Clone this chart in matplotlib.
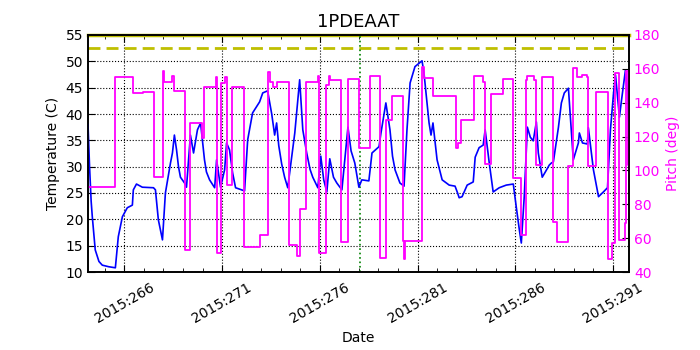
import matplotlib
matplotlib.use("Agg")
import matplotlib.pyplot as plt
from matplotlib.ticker import FixedLocator, MultipleLocator, FuncFormatter

title = "1PDEAAT"
xlabel = "Date"
ylabel_left = "Temperature (C)"
ylabel_right = "Pitch (deg)"
year = 2015
limit_temp = 52.5
top_line = 55.0
event_day = 278.05
major_days = [266, 271, 276, 281, 286, 291]

temp_day = [264.14, 264.22, 264.30, 264.36, 264.51, 264.70, 264.87, 265.20, 265.54, 265.69,
            265.90, 266.15, 266.41, 266.46, 266.62, 266.92, 267.49, 267.59, 267.74, 267.95,
            268.10, 268.36, 268.46, 268.56, 268.67, 268.77, 268.87, 269.08, 269.18, 269.38,
            269.54, 269.74, 269.90, 270.10, 270.20, 270.36, 270.62, 270.72, 270.92, 271.13,
            271.23, 271.38, 271.54, 271.69, 272.15, 272.31, 272.56, 272.92, 273.08, 273.33,
            273.54, 273.69, 273.79, 273.90, 274.05, 274.20, 274.36, 274.72, 274.97, 275.13,
            275.33, 275.50, 275.64, 275.90, 276.05, 276.20, 276.36, 276.51, 276.70, 276.87,
            277.13, 277.44, 277.60, 277.79, 278.00, 278.15, 278.51, 278.67, 279.03, 279.13,
            279.38, 279.59, 279.72, 279.85, 280.10, 280.31, 280.46, 280.62, 280.87, 281.23,
            281.33, 281.59, 281.69, 281.79, 282.00, 282.26, 282.62, 282.92, 283.05, 283.13,
            283.28, 283.54, 283.85, 283.95, 284.15, 284.36, 284.46, 284.67, 284.87, 285.18,
            285.54, 285.90, 286.05, 286.21, 286.31, 286.46, 286.62, 286.77, 286.92, 287.08,
            287.18, 287.38, 287.54, 287.74, 287.85, 287.95, 288.21, 288.36, 288.51, 288.72,
            288.97, 289.23, 289.28, 289.44, 289.69, 289.74, 290.00, 290.26, 290.51, 290.72,
            290.87, 291.03, 291.13, 291.33, 291.44, 291.64, 291.74, 291.82]
temp_val = [38.0, 30.0, 23.5, 20.5, 14.2, 12.0, 11.3, 11.0, 10.8, 16.7,
            20.5, 22.2, 22.7, 25.6, 26.7, 26.1, 26.0, 25.6, 19.9, 16.1,
            25.0, 30.7, 32.6, 36.0, 33.2, 30.0, 28.0, 26.9, 26.1, 36.0,
            32.6, 37.0, 38.3, 31.3, 29.0, 27.5, 26.0, 31.3, 26.1, 29.4,
            34.5, 33.2, 28.8, 26.0, 25.4, 35.1, 40.2, 42.3, 44.0, 44.4,
            40.0, 36.0, 38.3, 34.0, 30.5, 28.0, 26.0, 36.4, 46.5, 37.0,
            32.6, 29.5, 28.0, 26.0, 32.0, 27.5, 25.2, 31.5, 28.0, 26.9,
            25.6, 37.5, 33.0, 30.7, 26.1, 27.5, 27.3, 32.6, 33.8, 36.4,
            42.1, 37.0, 32.0, 29.4, 26.9, 26.3, 37.0, 45.9, 49.0, 50.1,
            47.8, 38.3, 36.0, 38.3, 31.3, 27.5, 26.5, 26.3, 25.0, 24.1,
            24.3, 26.5, 27.1, 31.8, 33.6, 34.1, 37.0, 30.7, 25.2, 26.0,
            26.5, 26.7, 22.4, 18.0, 15.5, 24.3, 37.5, 35.6, 34.9, 38.5,
            32.6, 28.0, 29.0, 30.3, 30.7, 30.9, 37.5, 42.1, 44.0, 44.9,
            31.3, 34.5, 36.4, 34.5, 34.3, 37.4, 29.4, 24.3, 25.2, 26.0,
            37.0, 44.0, 47.4, 39.4, 42.7, 48.4, 44.0, 37.5]

pitch_day = [264.14, 265.54, 266.46, 266.97, 267.54, 268.00, 268.05, 268.46, 268.56, 269.08,
             269.38, 269.95, 270.10, 270.67, 270.72, 270.97, 271.13, 271.23, 271.49, 272.10,
             272.92, 273.33, 273.44, 273.59, 273.79, 274.43, 274.81, 275.01, 275.28, 275.91,
             275.96, 276.34, 276.46, 276.51, 277.08, 277.44, 278.00, 278.56, 279.10, 279.41,
             279.67, 280.28, 280.33, 280.36, 281.23, 281.33, 281.79, 282.97, 283.08, 283.23,
             283.90, 284.36, 284.46, 284.77, 285.38, 285.90, 286.31, 286.56, 286.62, 286.97,
             287.08, 287.38, 287.95, 288.15, 288.72, 288.97, 289.18, 289.44, 289.69, 289.74,
             290.15, 290.72, 290.97, 291.08, 291.33, 291.59, 291.69, 291.79, 291.82]
pitch_val = [90, 155, 146, 146.5, 96, 158.5, 152, 156, 147, 53,
             128, 119, 149, 155, 51, 151.6, 155, 91.4, 149, 54.8,
             62, 158, 152, 149, 152, 56, 49.5, 77.5, 152, 156,
             51.4, 150.5, 156, 153.4, 57.7, 154, 113.5, 155.5, 48.3, 130,
             144, 58.3, 47.7, 58.3, 161, 154.6, 144, 113, 116, 130,
             155.8, 152, 104, 145, 154.3, 95.4, 62, 153.4, 155.8, 153.4,
             103, 155, 69.5, 57.7, 102.6, 160.5, 155, 156.4, 155, 102.6,
             146.3, 47.7, 57, 157.5, 59, 69, 159, 103, 103]

fig = plt.figure(figsize=(7, 3.5), dpi=100)
ax = fig.add_axes([88/700, 1 - 272/350, (629-88)/700, (272-35)/350])
ax2 = ax.twinx()

ax.plot(temp_day, temp_val, color="#0000ff", lw=1.2, zorder=3)
ax.axhline(limit_temp, color="#bfbf00", lw=2, dashes=(4.3, 2.2), zorder=2)
ax.axhline(top_line, color="#bfbf00", lw=2.5, zorder=2, clip_on=False)
ax.axvline(event_day, color="green", ls=":", lw=1.2, zorder=2)

ax2.plot(pitch_day, pitch_val, color="#ff00ff", lw=1.3, drawstyle="steps-post")

ax.set_xlim(264.14, 291.82)
ax.set_ylim(10, 55)
ax2.set_ylim(40, 180)

ax.xaxis.set_major_locator(FixedLocator(major_days))
ax.xaxis.set_minor_locator(MultipleLocator(1))
ax.xaxis.set_major_formatter(FuncFormatter(lambda v, p: f"{year}:{int(round(v))}"))
ax.yaxis.set_major_locator(MultipleLocator(5))
ax2.yaxis.set_major_locator(MultipleLocator(20))

ax.grid(True, which="major", color="black", ls=":", lw=0.8)
ax.tick_params(axis="both", which="major", direction="in", length=5, labelsize=10,
               top=True, right=False)
ax.tick_params(axis="x", which="minor", direction="in", length=3, top=True)
ax.tick_params(axis="x", which="major", pad=6)
ax2.tick_params(axis="y", direction="in", length=5, labelsize=10, labelcolor="#ff00ff")
for lab in ax.get_xticklabels():
    lab.set_rotation(30)
    lab.set_ha("center")

for sp in list(ax.spines.values()) + list(ax2.spines.values()):
    sp.set_linewidth(1.2)

ax.set_title(title, fontsize=13)
ax.set_xlabel(xlabel, fontsize=10)
ax.set_ylabel(ylabel_left, fontsize=10)
ax2.set_ylabel(ylabel_right, fontsize=10, color="#ff00ff")

fig.savefig("out.png", dpi=100)
